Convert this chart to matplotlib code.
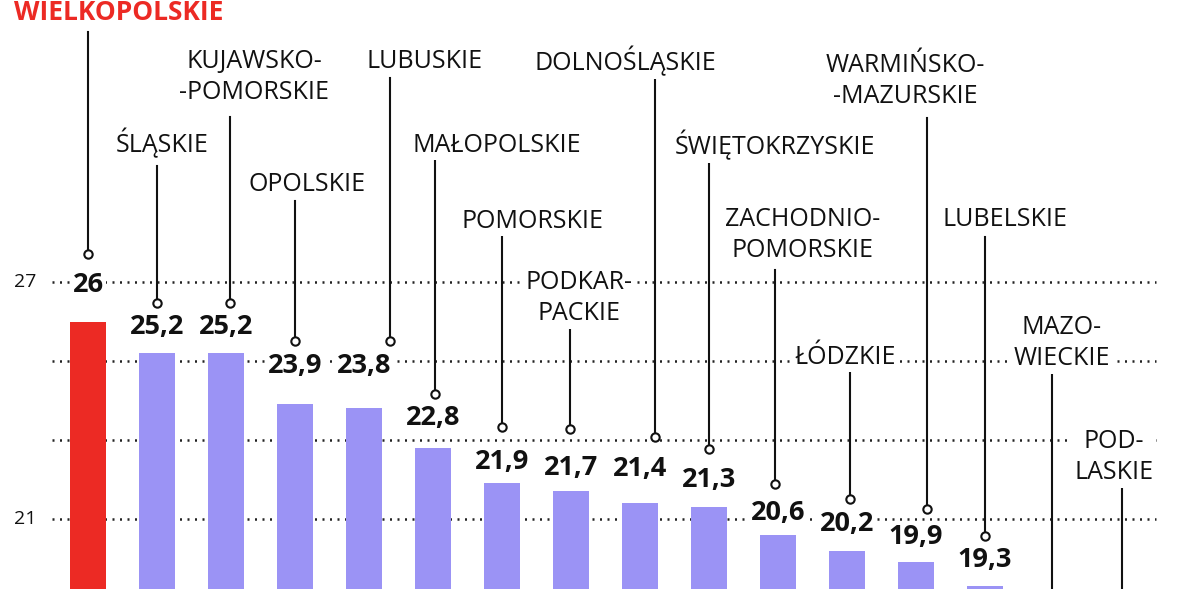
import matplotlib.pyplot as plt
import numpy as np

## Dane: województwa i wartości (kolejność jak na wykresie)
wojewodztwa = ["WIELKOPOLSKIE", "ŚLĄSKIE", "KUJAWSKO-\n-POMORSKIE", "OPOLSKIE",
               "LUBUSKIE", "MAŁOPOLSKIE", "POMORSKIE", "PODKAR-\nPACKIE",
               "DOLNOŚLĄSKIE", "ŚWIĘTOKRZYSKIE", "ZACHODNIO-\nPOMORSKIE", "ŁÓDZKIE",
               "WARMIŃSKO-\n-MAZURSKIE", "LUBELSKIE", "MAZO-\nWIECKIE", "POD-\nLASKIE"]
wartosci = [26.0, 25.2, 25.2, 23.9, 23.8, 22.8, 21.9, 21.7, 21.4, 21.3,
            20.6, 20.2, 19.9, 19.3, 18.6, 18.2]
etykiety = ["26", "25,2", "25,2", "23,9", "23,8", "22,8", "21,9", "21,7", "21,4",
            "21,3", "20,6", "20,2", "19,9", "19,3", "", ""]
siatka = [21, 23, 25, 27]

## Układ (piksele obrazu 1200x589)
W, H = 1200, 589
nazwa_x = [119, 162, 254, 307, 425, 497, 532, 579, 625, 775, 803, 845, 905, 1005, 1062, 1114]
nazwa_y = [12, 143, 77, 184, 61, 145, 221, 298, 61, 145, 235, 357, 81, 220, 343, 457]
linia_x = [88, 157, 230, 295, 390, 435, 502, 570, 655, 709, 775, 850, 927, 985, 1052, 1122]
linia_gora = [32, 166, 117, 201, 78, 160, 237, 330, 80, 162, 270, 373, 118, 237, 373, 487]
kolko_y = [254, 303, 303, 341, 341, 394, 427, 429, 437, 449, 484, 499, 509, 536, 600, 600]
wartosc_y = [285, 327, 327, 366, 366, 418, 462, 468, 469, 480, 513, 524, 537, 560, 600, 600]

FONT = "Open Sans"
CZERWONY = "#ec2a24"
FIOLET = "#9b93f5"

def fx(px):
    return px / W

def fy(py):
    return 1 - py / H

fig = plt.figure(figsize=(12, 5.89), dpi=100)
ax = fig.add_axes([0, 0, 1, 1])
ax.axis("off")

## skala: 27 -> y=282 px, 21 -> y=519 px, środek pierwszego słupka x=88 px, odstęp 69 px
px_na_jedn = (519 - 282) / 6
ax.set_ylim(27 - (H - 282) / px_na_jedn, 27 + 282 / px_na_jedn)
ax.set_xlim(-88 / 69, (W - 88) / 69)

x = np.arange(len(wartosci))
kolory = [CZERWONY] + [FIOLET] * (len(wartosci) - 1)
ax.bar(x, wartosci, width=0.52, color=kolory, zorder=2)

## linie siatki (kropkowane)
for g in siatka:
    ax.axhline(g, xmin=fx(52), xmax=fx(1156), color="#222222", lw=1.8,
               linestyle=(0, (0.8, 2.2)), zorder=1)

## opisy osi
ax.text(fx(36), 27, "27", transform=ax.get_yaxis_transform(), ha="right", va="center",
        fontsize=14, family=FONT, color="#111111")
ax.text(fx(36), 21, "21", transform=ax.get_yaxis_transform(), ha="right", va="center",
        fontsize=14, family=FONT, color="#111111")

tlo = dict(facecolor="white", edgecolor="none", pad=2)
for i in range(len(wartosci)):
    # linia odnośnika
    ax.plot([fx(linia_x[i])] * 2, [fy(linia_gora[i]), fy(kolko_y[i])],
            transform=ax.transAxes, color="#111111", lw=1.5, zorder=4, clip_on=False)
    if kolko_y[i] < H:
        ax.plot(fx(linia_x[i]), fy(kolko_y[i]), "o", transform=ax.transAxes, ms=6,
                mfc="white", mec="#111111", mew=1.5, zorder=5)
    # nazwa województwa
    pierwsza = i == 0
    ax.text(fx(nazwa_x[i]), fy(nazwa_y[i]), wojewodztwa[i], transform=ax.transAxes,
            ha="center", va="center", multialignment="center", linespacing=1.3,
            fontsize=18 if not pierwsza else 19,
            fontweight="bold" if pierwsza else "normal",
            color=CZERWONY if pierwsza else "#111111", family=FONT,
            bbox=tlo, zorder=6)
    # wartość
    if etykiety[i]:
        ax.text(x[i], fy(wartosc_y[i]), etykiety[i],
                transform=ax.get_xaxis_transform(), ha="center", va="center",
                fontsize=19.5, fontweight="bold", family=FONT, color="#111111",
                bbox=tlo, zorder=6)

plt.savefig("out.png", dpi=100, facecolor="white")
